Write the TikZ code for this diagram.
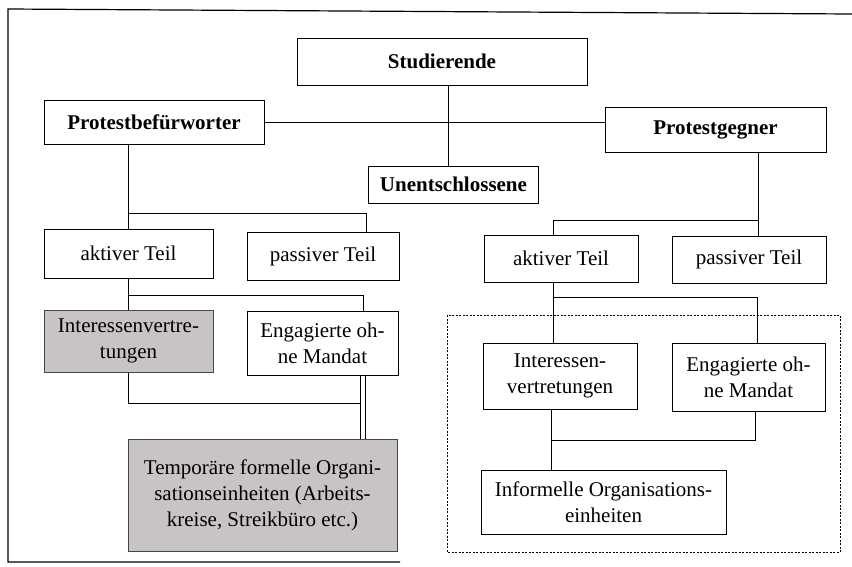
\documentclass[tikz,border=0pt]{standalone}
\usepackage{fontspec}
\setmainfont{Liberation Serif}
\definecolor{shadegray}{RGB}{200,195,197}
\begin{document}
\begin{tikzpicture}[x=1pt,y=-1pt,
  box/.style={draw, line width=1pt, inner sep=0pt, align=center,
              font=\fontsize{21}{26}\selectfont},
  bbox/.style={box, font=\fontsize{21}{26}\selectfont\bfseries},
  shadedbox/.style={box, fill=shadegray, draw=gray!55!black},
  link/.style={line width=1pt},
  frameline/.style={line width=1.2pt},
  dashbox/.style={line width=0.8pt, dash pattern=on 2pt off 1.5pt}]
\useasboundingbox (0,0) rectangle (852,566);

% outer frame
\draw[frameline] (852,14) -- (8,9) -- (8,562) -- (400,562);

% top level
\node[bbox, minimum width=290pt, minimum height=47pt] (stud) at (442,61.5) {Studierende};
\node[bbox, minimum width=220pt, minimum height=44pt] (pbf) at (154,122) {Protestbefürworter};
\node[bbox, minimum width=221pt, minimum height=45pt] (pg) at (715.5,129.5) {Protestgegner};
\node[bbox, minimum width=170pt, minimum height=37pt] (unent) at (453.5,184.5) {Unentschlossene};

% left branch
\node[box, minimum width=169pt, minimum height=49pt] (akL) at (128.5,253.5) {aktiver Teil};
\node[box, minimum width=152pt, minimum height=48pt] (pasL) at (323,256) {passiver Teil};
\node[shadedbox, minimum width=169pt, minimum height=62pt] (intL) at (128.5,341) {Interessenvertre-\\tungen};
\node[box, minimum width=151pt, minimum height=64pt] (engL) at (322.5,343) {Engagierte oh-\\ne Mandat};
\node[shadedbox, minimum width=269pt, minimum height=112pt] (temp) at (262.5,495) {Temporäre formelle Organi-\\sationseinheiten (Arbeits-\\kreise, Streikbüro etc.)};

% right branch
\node[box, minimum width=154pt, minimum height=47pt] (akR) at (561,258.5) {aktiver Teil};
\node[box, minimum width=154pt, minimum height=47pt] (pasR) at (749,259.5) {passiver Teil};
\node[box, minimum width=154pt, minimum height=66pt] (intR) at (560,376) {Interessen-\\vertretungen};
\node[box, minimum width=153pt, minimum height=68pt] (engR) at (748.5,377) {Engagierte oh-\\ne Mandat};
\node[box, minimum width=245pt, minimum height=64pt] (inf) at (603.5,502) {Informelle Organisations-\\einheiten};

% dashed group
\draw[dashbox] (447,315) rectangle (840,552);

% helper coordinates
\coordinate (vS) at (448,0);
\coordinate (bL) at (0,213);
\coordinate (cL) at (0,295);
\coordinate (jL) at (360,403);
\coordinate (vR) at (758,0);
\coordinate (bR) at (0,220);
\coordinate (cR) at (0,297);
\coordinate (dR) at (0,440);

% top connectors
\draw[link] (pbf.east) -- (pbf.east -| pg.west);
\draw[link] (vS |- stud.south) -- (vS |- unent.north);

% left connectors
\draw[link] (akL.north |- pbf.south) -- (akL.north);
\draw[link] (akL.north |- bL) -| ([xshift=43pt]pasL.north);
\draw[link] (akL.south) -- (intL.north);
\draw[link] (akL.south |- cL) -| ([xshift=40.5pt]engL.north);
\draw[link] (intL.south) |- (jL);
\draw[line width=1.2pt, double distance=4pt] ([xshift=40.5pt]engL.south) -- ([xshift=40.5pt]engL.south |- temp.north);

% right connectors
\draw[link] (vR |- pg.south) -- (vR |- pasR.north);
\draw[link] (vR |- bR) -| ([xshift=-8pt]akR.north);
\draw[link] ([xshift=-8pt]akR.south) -- ([xshift=-8pt]akR.south |- intR.north);
\draw[link] ([xshift=-8pt]akR.south |- cR) -| ([xshift=8.5pt]engR.north);
\draw[link] ([xshift=-9pt]intR.south) -- ([xshift=-9pt]intR.south |- inf.north);
\draw[link] ([xshift=6.5pt]engR.south) |- ([xshift=-9pt]intR.south |- dR);
\end{tikzpicture}
\end{document}
